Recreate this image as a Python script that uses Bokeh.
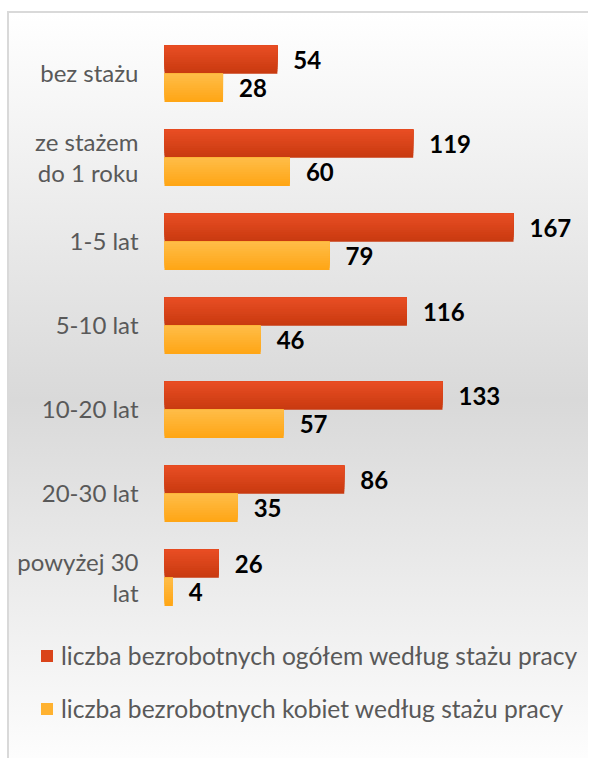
from bokeh.plotting import figure
from bokeh.models import ColumnDataSource, Range1d, Legend, LegendItem
from bokeh.transform import dodge
from bokeh.core.properties import value
from bokeh.embed import file_html
from bokeh.resources import INLINE

categories = ["bez stażu", "ze stażem\ndo 1 roku", "1-5 lat", "5-10 lat",
              "10-20 lat", "20-30 lat", "powyżej 30\nlat"]
ogolem = [54, 119, 167, 116, 133, 86, 26]
kobiety = [28, 60, 79, 46, 57, 35, 4]
series_names = ["liczba bezrobotnych ogółem według stażu pracy",
                "liczba bezrobotnych kobiet według stażu pracy"]

# gradient colours (top, bottom) of each series' bars
RED_TOP, RED_BOT = (233, 78, 36), (200, 57, 15)
YEL_TOP, YEL_BOT = (255, 189, 72), (255, 165, 20)
FONT = "Lato"

idx = list(range(len(categories)))
src = ColumnDataSource(dict(idx=idx, cat=categories, zero=[0] * len(idx),
                            ogolem=ogolem, kobiety=kobiety,
                            lab_o=[str(v) for v in ogolem],
                            lab_k=[str(v) for v in kobiety]))

W, H = 581, 747
PX = 2.09          # pixels per unit on the value axis
ROW = 84           # pixels per category row
X0 = 155           # pixel position of the value 0
TOP = 18.3         # pixel position of the top of the first row
p = figure(width=W, height=H, output_backend="svg", toolbar_location=None,
           x_range=Range1d(-X0 / PX, (W - X0) / PX),
           y_range=Range1d(-0.5 + (H - TOP) / ROW, -0.5 - TOP / ROW),
           min_border=0)
p.background_fill_color = None
p.border_fill_color = None
p.outline_line_color = None
p.styles = {"background": "linear-gradient(to bottom, #ffffff 0%, #d9d9d9 52%, #fdfdfd 100%)",
            "border-left": "2px solid #d9d9d9", "border-top": "2px solid #d9d9d9",
            "margin-left": "7px", "margin-top": "11px"}
p.xgrid.visible = False
p.ygrid.visible = False
p.xaxis.visible = False
p.yaxis.visible = False

bh = 0.337
N = 12


def mix(c1, c2, t):
    return "#%02x%02x%02x" % tuple(round(a + (b - a) * t) for a, b in zip(c1, c2))


def gradient_bars(col, start, ctop, cbot):
    # nested layers anchored at the bar's top edge: each shorter layer is
    # lighter and covers the previous one, leaving a band visible below it
    rends = []
    for k in range(N):
        h = bh * (N - k) / N
        r = p.hbar(y=dodge("idx", start + h / 2, range=p.y_range), left=0,
                   right=col, height=h, source=src,
                   fill_color=mix(ctop, cbot, (N - k - 0.5) / N), line_color=None)
        rends.append(r)
    return rends


red_r = gradient_bars("ogolem", -bh, RED_TOP, RED_BOT)
yel_r = gradient_bars("kobiety", 0, YEL_TOP, YEL_BOT)

for col, lab, off in (("ogolem", "lab_o", -bh / 2), ("kobiety", "lab_k", bh / 2)):
    p.text(x=col, y=dodge("idx", off, range=p.y_range), text=lab, source=src,
           x_offset=16, text_baseline="middle", text_align="left",
           text_font=value(FONT), text_font_style="bold",
           text_font_size="24px", text_color="#000000")

# category labels (vertical axis labels)
p.text(x="zero", y="idx", text="cat", source=src, x_offset=-26, y_offset=-1,
       text_align="right", text_baseline="middle", text_line_height=1.05,
       text_font=value(FONT), text_font_size="24px", text_color="#595959")

legend = Legend(items=[LegendItem(label=series_names[0], renderers=[red_r[N // 2]]),
                       LegendItem(label=series_names[1], renderers=[yel_r[N // 2]])],
                location=(30, 37), orientation="vertical",
                glyph_width=15, glyph_height=15, label_standoff=7,
                label_height=27, spacing=24, padding=0, margin=0,
                background_fill_alpha=0, border_line_color=None,
                label_text_font=FONT, label_text_font_size="24.6px",
                label_text_color="#595959")
p.add_layout(legend, "center")

open("out.html", "w").write(file_html(p, INLINE))
